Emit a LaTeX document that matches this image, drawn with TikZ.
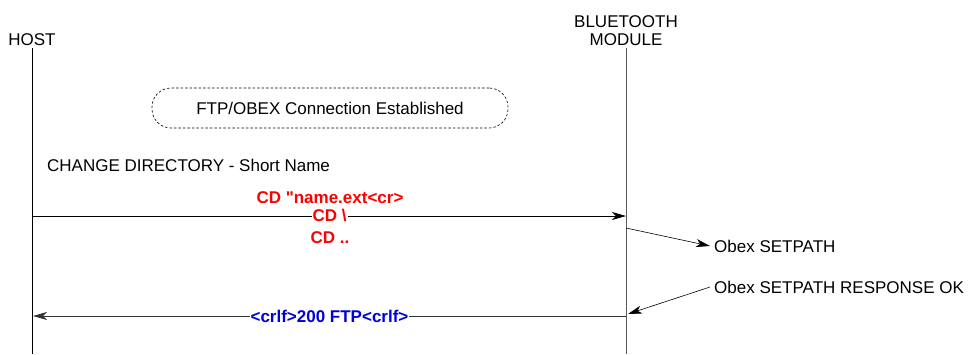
\documentclass[tikz,border=0pt]{standalone}
\usepackage{fontspec}
\setmainfont{Liberation Sans}[Ligatures=TeXOff]
\usetikzlibrary{arrows.meta}
\tikzset{actor/.style   = {inner sep=2pt, align=center},
	lifeline/.style = {draw, line width=0.8pt},
	msg/.style      = {draw, line width=0.8pt, -{Stealth[length=14pt, width=8pt, inset=4pt]}},
	note/.style     = {draw, dash pattern=on 2.5pt off 2pt, line width=0.6pt, rounded corners=19pt,
		minimum width=356pt, minimum height=40pt},
	cmd/.style      = {font={\fontsize{17}{18}\selectfont\bfseries}, inner sep=1pt},
	remark/.style   = {anchor=west, inner sep=4pt}
}

\begin{document}
\begin{tikzpicture}[x=1pt, y=-1pt, font={\fontsize{17}{18}\selectfont}]
		\useasboundingbox (0,0) rectangle (970,354);
		\node [actor] (host) at (32,40) {HOST};
		\node [actor] (module) at (626,31) {BLUETOOTH\\MODULE};
		\coordinate (hostend) at (33,354);
		\coordinate (moduleend) at (626,354);
		\path[lifeline] (host.south) -- (host.south |- hostend);
		\path[lifeline, black!65] (module.south) -- (moduleend);
		\node [note] (conn) at (330,108) {FTP/OBEX Connection Established};
		\node [anchor=west, inner sep=0pt] (title) at (47,165) {CHANGE DIRECTORY - Short Name};
		% request
		\coordinate (cdstart) at (33,216);
		\coordinate (cdend) at (626,216);
		\path[msg] (cdstart) -- (cdend) node[pos=0.5, cmd, red, fill=white] (cd2) {CD \textbackslash};
		\node [cmd, red] (cd1) at (330,198) {CD "name.ext<cr>};
		\node [cmd, red] (cd3) at (330,238) {CD ..};
		\node [remark] (setpath) at (710,246) {Obex SETPATH};
		\coordinate (setpathfrom) at (626,228);
		\path[msg, line width=0.6pt] (setpathfrom) -- (setpath.west);
		% response
		\node [remark] (response) at (710,287) {Obex SETPATH RESPONSE OK};
		\coordinate (responseto) at (628,314);
		\path[msg, line width=0.6pt] (response.west) -- (responseto);
		\coordinate (okstart) at (626,316);
		\coordinate (okend) at (33,316);
		\path[msg, black!80] (okstart) -- (okend) node[pos=0.5, cmd, blue!85!black, fill=white] (ok) {<crlf>200 FTP<crlf>};
	\end{tikzpicture}
\end{document}
